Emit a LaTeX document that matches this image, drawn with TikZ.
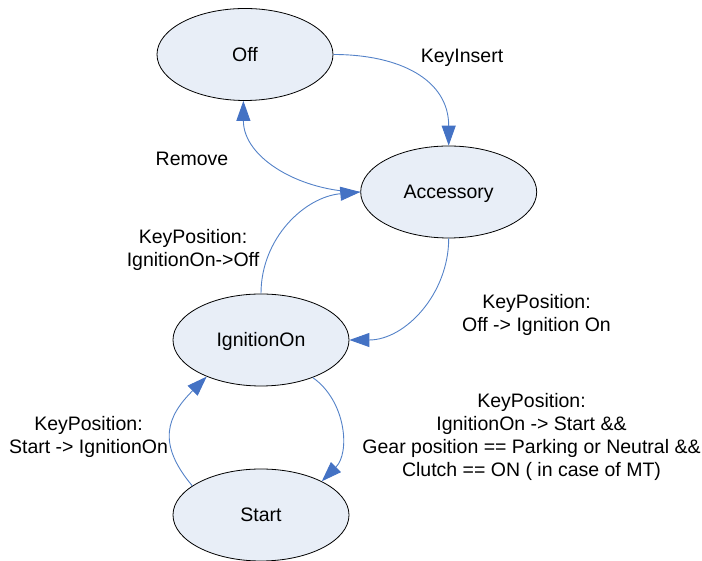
\documentclass[tikz,border=0pt]{standalone}
\usepackage{fontspec}
\setmainfont{Liberation Sans}
\usetikzlibrary{arrows.meta,shapes.geometric}
\definecolor{fillblue}{RGB}{232,238,247}
\definecolor{lineblue}{RGB}{84,130,200}
\definecolor{tipblue}{RGB}{68,114,196}
\begin{document}
\begin{tikzpicture}[x=1pt,y=1pt,
  state/.style={ellipse,draw=black,line width=0.8pt,fill=fillblue,minimum width=176pt,minimum height=92pt,inner sep=0pt,text height=14pt,text depth=0pt,font=\fontsize{19.5}{23}\selectfont},
  conn/.style={draw=lineblue,line width=0.9pt,-{Triangle[length=20pt,width=14pt,color=tipblue]}},
  lbl/.style={anchor=north,align=center,inner sep=0pt,font=\fontsize{19.5}{23}\selectfont}]
\useasboundingbox (0,0) rectangle (702,561);
\node[state] (off) at (245,506.5) {Off};
\node[state] (acc) at (448.7,369) {Accessory};
\node[state] (ign) at (261,221) {IgnitionOn};
\node[state] (start) at (261,46) {Start};

\draw[conn] (off.east) to[out=0,in=90,looseness=1.15] (acc.north);
\draw[conn] (acc.west) to[out=180,in=-90] (off.268);
\draw[conn] (ign.north) to[out=90,in=185] (acc.west);
\draw[conn] (acc.south) to[out=-90,in=0] (ign.east);
\draw[conn] (ign.-36) to[out=-35,in=45] (start.29);
\draw[conn] (start.157) to[out=130,in=225,looseness=1.3] (ign.214);

\node[lbl] (lki) at (462,512) {KeyInsert};
\node[lbl] (lrm) at (192,409) {Remove};
\node[lbl] (lio) at (193,331.7) {KeyPosition:\\IgnitionOn->Off};
\node[lbl] (loi) at (536.5,266.7) {KeyPosition:\\Off -> Ignition On};
\node[lbl] (lsi) at (88.5,145) {KeyPosition:\\Start -> IgnitionOn};
\node[lbl] (lis) at (531.5,168.3) {KeyPosition:\\IgnitionOn -> Start \&\&\\Gear position == Parking or Neutral \&\&\\Clutch == ON ( in case of MT)};
\end{tikzpicture}
\end{document}
